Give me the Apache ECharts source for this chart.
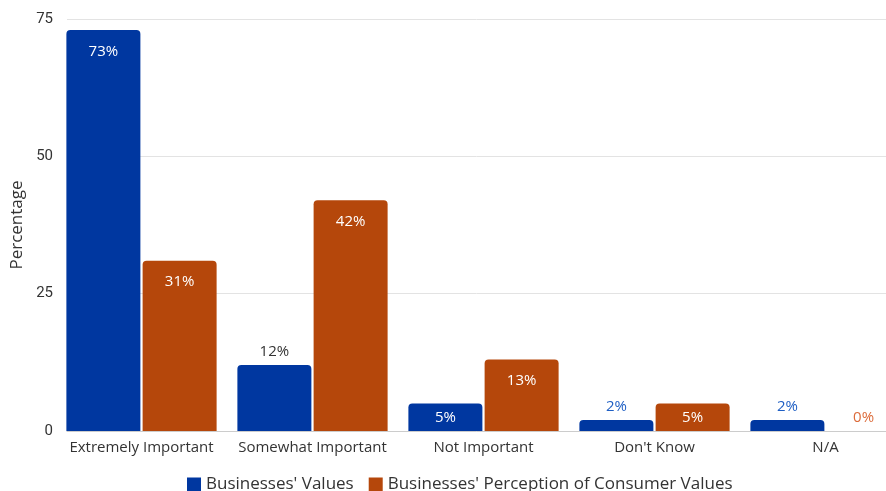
<!DOCTYPE html>
<html><head><meta charset="utf-8">
<script src="https://cdn.jsdelivr.net/npm/echarts@6/dist/echarts.min.js"></script>
<style>html,body{margin:0;padding:0;background:#fff}#c{width:886px;height:491px}</style>
</head><body><div id="c"></div>
<script>
const categories = ["Extremely Important", "Somewhat Important", "Not Important", "Don't Know", "N/A"];
const seriesNames = ["Businesses' Values", "Businesses' Perception of Consumer Values"];
const businessValues = [73, 12, 5, 2, 2];
const perceptionValues = [31, 42, 13, 5, 0];
const yTicks = [0, 25, 50, 75];

const BLUE = '#0037a0', ORANGE = '#b5470b';
const bData = businessValues.map((v,i) => ({value:v, label: i===0 ? {show:true,position:'insideTop',distance:14,color:'#fff'} : (v>=10 ? {show:true,position:'top',distance:6,color:'#333'} : (v>=4 ? {show:true,position:'inside',color:'#fff'} : {show:true,position:'top',distance:6,color:'#1f5fc4'}))}));
const pData = perceptionValues.map(v => ({value:v, label: v>=10 ? {show:true,position:'insideTop',distance:14,color:'#fff'} : (v>=4 ? {show:true,position:'inside',color:'#fff'} : {show:true,position:'top',distance:6,color:'#dc6b3a'})}));

const yMin = yTicks[0], yMax = yTicks[yTicks.length-1];
const chart = echarts.init(document.getElementById('c'));
chart.setOption({
  animation:false,
  textStyle:{fontFamily:'Open Sans'},
  grid:[
    {left:56, width:855, top:19, height:412, containLabel:false, outerBoundsMode:'none'},
    {left:67, right:0, top:19, height:412, containLabel:false, outerBoundsMode:'none'}
  ],
  legend:{top:471, left:182, itemWidth:14, itemHeight:14, itemGap:15, icon:'rect',
    textStyle:{fontSize:17, color:'#333', fontFamily:'Open Sans'}, data:seriesNames},
  xAxis:[
    {gridIndex:0, type:'category', data:categories, axisTick:{show:false},
     axisLine:{show:false},
     axisLabel:{interval:0, fontSize:15, color:'#333', margin:9, fontFamily:'Open Sans'}},
    {gridIndex:1, type:'value', min:0, max:1, axisTick:{show:false}, axisLabel:{show:false},
     splitLine:{show:false}, axisLine:{show:true, lineStyle:{color:'#ccc'}}}
  ],
  yAxis:[
    {gridIndex:0, type:'value', min:yMin, max:yMax, interval:25,
     name:'Percentage', nameLocation:'middle', nameGap:28, nameRotate:90,
     nameTextStyle:{fontSize:17, color:'#333', fontFamily:'Open Sans'},
     axisLabel:{fontSize:15, color:'#333', margin:3, fontFamily:'Roboto'},
     splitLine:{show:false}},
    {gridIndex:1, type:'value', min:yMin, max:yMax, interval:25, axisLabel:{show:false},
     axisLine:{show:false}, axisTick:{show:false},
     splitLine:{lineStyle:{color:'#e3e3e3'}}}
  ],
  series:[
    {name:seriesNames[0], type:'bar', data:bData, barWidth:74, barGap:'3%', z:3, itemStyle:{color:BLUE, borderRadius:[4,4,0,0]},
     label:{fontSize:15, fontFamily:'Open Sans', formatter:p=>p.value+'%'}},
    {name:seriesNames[1], type:'bar', data:pData, barWidth:74, z:3, itemStyle:{color:ORANGE, borderRadius:[4,4,0,0]},
     label:{fontSize:15, fontFamily:'Open Sans', formatter:p=>p.value+'%'}}
  ]
});
</script></body></html>
